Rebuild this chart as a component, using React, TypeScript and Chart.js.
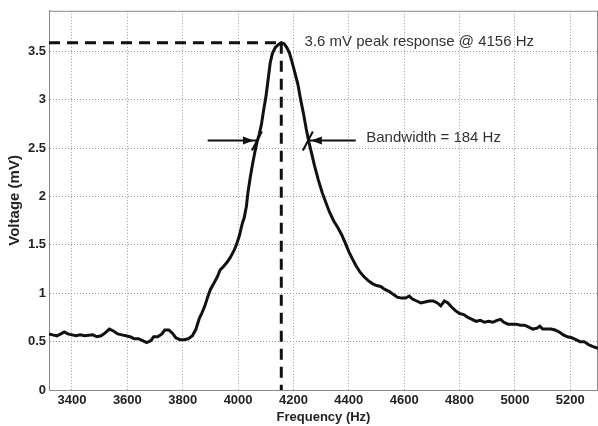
import { useEffect, useRef } from "react";
import { Chart, registerables } from "chart.js";

Chart.register(...registerables);

const frequencyHz = [
  3317, 3330, 3345, 3360, 3372, 3385, 3400, 3415, 3430, 3445, 3460, 3475, 3490, 3505, 3520, 3535,
  3550, 3565, 3580, 3595, 3610, 3625, 3640, 3655, 3670, 3685, 3695, 3710, 3725, 3735, 3750, 3762,
  3775, 3790, 3805, 3820, 3835, 3848, 3860, 3870, 3880, 3890, 3900, 3912, 3925, 3935, 3948, 3960,
  3972, 3985, 3995, 4005, 4015, 4022, 4030, 4036, 4044, 4052, 4060, 4068, 4076, 4084, 4092, 4100,
  4108, 4116, 4124, 4134, 4145, 4156, 4166, 4176, 4186, 4196, 4206, 4216, 4226, 4236, 4246, 4256,
  4266, 4276, 4290, 4304, 4318, 4330, 4345, 4360, 4375, 4390, 4400, 4412, 4425, 4440, 4455, 4470,
  4485, 4500, 4515, 4530, 4545, 4560, 4575, 4590, 4605, 4618, 4630, 4645, 4660, 4675, 4690, 4705,
  4720, 4732, 4745, 4758, 4770, 4785, 4800, 4815, 4830, 4845, 4860, 4875, 4890, 4905, 4920, 4935,
  4948, 4960, 4975, 4990, 5005, 5020, 5035, 5050, 5065, 5080, 5090, 5100, 5115, 5130, 5145, 5160,
  5175, 5190, 5205, 5220, 5235, 5250, 5265, 5280, 5300,
];

const voltageMv = [
  0.58, 0.57, 0.56, 0.58, 0.6, 0.58, 0.57, 0.56, 0.57, 0.56, 0.565, 0.57, 0.55, 0.56, 0.59, 0.63,
  0.61, 0.58, 0.57, 0.56, 0.55, 0.53, 0.53, 0.51, 0.49, 0.51, 0.55, 0.55, 0.58, 0.62, 0.62, 0.59,
  0.54, 0.52, 0.52, 0.53, 0.56, 0.63, 0.74, 0.8, 0.87, 0.96, 1.04, 1.1, 1.17, 1.24, 1.28, 1.32,
  1.37, 1.44, 1.51, 1.6, 1.72, 1.78, 1.9, 2.05, 2.2, 2.33, 2.45, 2.56, 2.64, 2.74, 2.89, 3.02,
  3.2, 3.38, 3.48, 3.54, 3.57, 3.59, 3.58, 3.54, 3.48, 3.38, 3.27, 3.16, 3.0, 2.86, 2.7, 2.56,
  2.44, 2.32, 2.17, 2.04, 1.93, 1.84, 1.75, 1.68, 1.6, 1.5, 1.43, 1.36, 1.29, 1.22, 1.17, 1.13,
  1.1, 1.08, 1.07, 1.04, 1.02, 0.99, 0.96, 0.95, 0.95, 0.97, 0.94, 0.92, 0.9, 0.91, 0.92, 0.92,
  0.9, 0.87, 0.92, 0.9, 0.86, 0.82, 0.79, 0.78, 0.75, 0.73, 0.71, 0.72, 0.7, 0.71, 0.7, 0.72,
  0.73, 0.7, 0.68, 0.68, 0.68, 0.67, 0.67, 0.65, 0.63, 0.64, 0.66, 0.63, 0.63, 0.63, 0.62, 0.6,
  0.57, 0.55, 0.54, 0.52, 0.5, 0.5, 0.47, 0.45, 0.43,
];

const xTicks = [3400, 3600, 3800, 4000, 4200, 4400, 4600, 4800, 5000, 5200];
const yTicks = [0, 0.5, 1, 1.5, 2, 2.5, 3, 3.5];
const xMin = 3317;
const xMax = 5300;
const yMin = 0;
const yMax = 3.92;

const peakFreq = 4156;
const peakVoltage = 3.59;
const bwLow = 4068;
const bwHigh = 4252;
const bwLevel = 2.58;
const arrowLeftStart = 3890;
const arrowRightStart = 4425;
const peakLabel = "3.6 mV peak response @ 4156 Hz";
const peakLabelX = 4240;
const bwLabel = "Bandwidth = 184 Hz";
const bwLabelX = 4463;

const FONT = "'Liberation Sans', Arial, Helvetica, sans-serif";

const annotationPlugin = {
  id: "annotations",
  beforeDatasetsDraw(chart: any) {
    const { ctx, chartArea } = chart;
    ctx.save();
    ctx.strokeStyle = "#8a8a8a";
    ctx.lineWidth = 1;
    ctx.beginPath();
    ctx.moveTo(chartArea.left, chartArea.top + 0.5);
    ctx.lineTo(chartArea.right, chartArea.top + 0.5);
    ctx.moveTo(chartArea.right - 0.5, chartArea.top);
    ctx.lineTo(chartArea.right - 0.5, chartArea.bottom);
    ctx.stroke();
    ctx.restore();
  },
  afterDatasetsDraw(chart: any) {
    const { ctx } = chart;
    const x = chart.scales.x;
    const y = chart.scales.y;
    ctx.save();
    const yb = y.getPixelForValue(bwLevel);
    const xl = x.getPixelForValue(bwLow);
    const xr = x.getPixelForValue(bwHigh);
    ctx.fillStyle = "#111";
    const head = (tip: number, dir: number) => {
      ctx.beginPath();
      ctx.moveTo(tip, yb);
      ctx.lineTo(tip - dir * 11, yb - 4);
      ctx.lineTo(tip - dir * 11, yb + 4);
      ctx.closePath();
      ctx.fill();
    };
    head(xl - 3, 1);
    head(xr + 3, -1);
    ctx.strokeStyle = "#111";
    ctx.lineWidth = 2;
    ctx.beginPath();
    [xl, xr].forEach((xp) => {
      ctx.moveTo(xp - 5, yb + 10);
      ctx.lineTo(xp + 5, yb - 9);
    });
    ctx.stroke();

    ctx.fillStyle = "#333";
    ctx.font = `15px ${FONT}`;
    ctx.textAlign = "left";
    ctx.textBaseline = "middle";
    ctx.fillText(peakLabel, x.getPixelForValue(peakLabelX), y.getPixelForValue(peakVoltage) - 1);
    ctx.fillText(bwLabel, x.getPixelForValue(bwLabelX), y.getPixelForValue(bwLevel) - 3);
    ctx.restore();
  },
};

export default function App() {
  const canvasRef = useRef<HTMLCanvasElement | null>(null);

  useEffect(() => {
    const canvas = canvasRef.current;
    if (!canvas) return;
    const pts = (xs: number[], ys: number[]) => xs.map((v, i) => ({ x: v, y: ys[i] }));
    const chart = new Chart(canvas, {
      type: "line",
      data: {
        datasets: [
          {
            label: "Voltage",
            data: pts(frequencyHz, voltageMv),
            borderColor: "#111",
            borderWidth: 3,
            pointRadius: 0,
            tension: 0,
            fill: false,
          },
          {
            label: "peak-h",
            data: pts([xMin, peakFreq], [peakVoltage, peakVoltage]),
            borderColor: "#111",
            borderWidth: 3,
            borderDash: [11, 7],
            pointRadius: 0,
          },
          {
            label: "peak-v",
            data: pts([peakFreq, peakFreq], [peakVoltage, yMin]),
            borderColor: "#111",
            borderWidth: 3,
            borderDash: [11, 7],
            pointRadius: 0,
          },
          {
            label: "bw-left",
            data: pts([arrowLeftStart, bwLow], [bwLevel, bwLevel]),
            borderColor: "#111",
            borderWidth: 2,
            pointRadius: 0,
          },
          {
            label: "bw-right",
            data: pts([arrowRightStart, bwHigh], [bwLevel, bwLevel]),
            borderColor: "#111",
            borderWidth: 2,
            pointRadius: 0,
          },
        ],
      },
      options: {
        responsive: false,
        animation: false,
        devicePixelRatio: 1,
        layout: { padding: { left: 0, top: 8, right: 0, bottom: 0 } },
        plugins: {
          legend: { display: false },
          tooltip: { enabled: false },
        },
        scales: {
          x: {
            type: "linear",
            min: xMin,
            max: xMax,
            afterBuildTicks: (scale: any) => {
              scale.ticks = xTicks.map((v) => ({ value: v }));
            },
            afterFit: (scale: any) => {
              scale.height = 36;
            },
            ticks: {
              callback: (v: any) => String(v),
              color: "#222",
              font: { family: FONT, size: 13, weight: "bold" },
              padding: 3,
              maxRotation: 0,
              autoSkip: false,
            },
            grid: { color: "#9a9a9a", lineWidth: 1, drawTicks: false },
            border: { display: true, color: "#8a8a8a", width: 1, dash: [1, 2] },
            title: {
              display: true,
              text: "Frequency (Hz)",
              color: "#222",
              font: { family: FONT, size: 13, weight: "bold" },
              padding: { top: 0, bottom: 1 },
            },
          },
          y: {
            type: "linear",
            min: yMin,
            max: yMax,
            afterBuildTicks: (scale: any) => {
              scale.ticks = yTicks.map((v) => ({ value: v }));
            },
            afterFit: (scale: any) => {
              scale.width = 49;
            },
            ticks: {
              callback: (v: any) => String(v),
              color: "#222",
              font: { family: FONT, size: 13, weight: "bold" },
              padding: 3,
              autoSkip: false,
            },
            grid: { color: "#9a9a9a", lineWidth: 1, drawTicks: false },
            border: { display: true, color: "#8a8a8a", width: 1, dash: [1, 2] },
            title: {
              display: true,
              text: "Voltage (mV)",
              color: "#222",
              font: { family: FONT, size: 15, weight: "bold" },
              padding: { top: 6, bottom: 0 },
            },
          },
        },
      },
      plugins: [annotationPlugin],
    } as any);
    return () => chart.destroy();
  }, []);

  return (
    <div style={{ position: "absolute", left: 0, top: 0, width: 598, height: 426, background: "#fff" }}>
      <canvas ref={canvasRef} width={598} height={426} style={{ display: "block" }} />
    </div>
  );
}
